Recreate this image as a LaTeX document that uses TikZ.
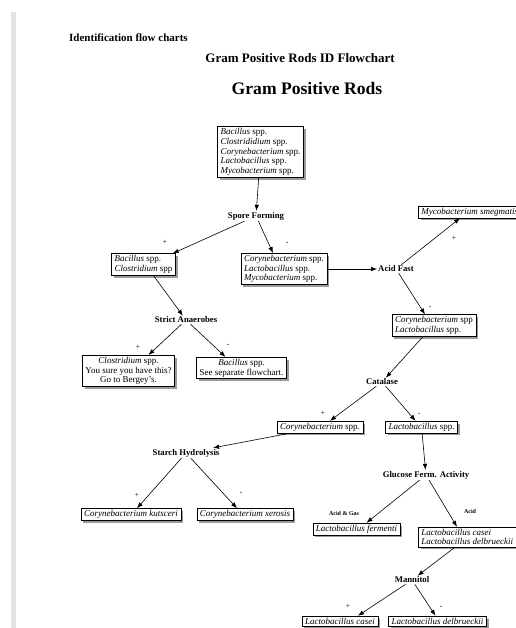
\documentclass[tikz,border=0pt]{standalone}
\usepackage{fontspec}
\setmainfont{Liberation Serif}
\usetikzlibrary{arrows.meta,shadows}

\begin{document}
\begin{tikzpicture}[
    x=1pt, y=-1pt,
    taxon/.style={rectangle, draw, line width=0.6pt, fill=white, inner xsep=3pt, inner ysep=1.8pt, align=left,
        font=\fontsize{9}{9.8}\selectfont,
        drop shadow={shadow xshift=2.2pt, shadow yshift=-2.5pt, fill=black!65, opacity=0.6}},
    taxonc/.style={taxon, align=center},
    test/.style={font=\bfseries\fontsize{8.7}{10}\selectfont, inner sep=1pt},
    sign/.style={font=\fontsize{7.5}{8}\selectfont, inner sep=0pt},
    result/.style={font=\bfseries\fontsize{6}{7}\selectfont, inner sep=0pt},
    every edge/.style={draw, -{Latex[length=6pt,width=4.5pt]}, line width=0.6pt}
]
\useasboundingbox (0,0) rectangle (515,628);
\fill[gray!22] (11,12) rectangle (16,628);

% Titles
\node[font=\bfseries\fontsize{11}{13}\selectfont, anchor=west, inner sep=0pt] (heading) at (69,38) {Identification flow charts};
\node[font=\bfseries\fontsize{13}{15}\selectfont] (subtitle) at (300,58) {Gram Positive Rods ID Flowchart};
\node[font=\bfseries\fontsize{17.6}{20}\selectfont] (title) at (307,88) {Gram Positive Rods};

% Taxa and tests
\node[taxon] (all) at (260.5,152) {\textit{Bacillus} spp.\\ \textit{Clostrididium} spp.\\ \textit{Corynebacterium} spp.\\ \textit{Lactobacillus} spp.\\ \textit{Mycobacterium} spp.};
\node[test] (spore) at (256,216) {Spore Forming};
\node[taxon] (bacclos) at (143.5,264.5) {\textit{Bacillus} spp.\\ \textit{Clostridium} spp};
\node[taxon] (corlacmyc) at (284,269) {\textit{Corynebacterium} spp.\\ \textit{Lactobacillus} spp.\\ \textit{Mycobacterium} spp.};
\node[test] (acidfast) at (396,269) {Acid Fast};
\node[taxon, anchor=west] (smeg) at (418,212) {\textit{Mycobacterium smegmatis}};
\node[taxon] (corlac) at (434,325.5) {\textit{Corynebacterium} spp\\ \textit{Lactobacillus} spp.};
\node[test] (catalase) at (382,382) {Catalase};
\node[taxon] (cory) at (320,427) {\textit{Corynebacterium} spp.};
\node[taxon] (lacto) at (421.5,427) {\textit{Lactobacillus} spp.};
\node[test] (anaer) at (186,320) {Strict Anaerobes};
\node[taxonc] (clos) at (128.5,371) {\textit{Clostridium} spp.\\ You sure you have this?\\ Go to Bergey's.};
\node[taxonc] (bacsep) at (241.5,368) {\textit{Bacillus} spp.\\ See separate flowchart.};
\node[test] (starch) at (186,453) {Starch Hydrolysis};
\node[taxon] (kuts) at (131,514.5) {\textit{Corynebacterium kutsceri}};
\node[taxon] (xero) at (245,514.5) {\textit{Corynebacterium xerosis}};
\node[test] (glucose) at (426,475) {Glucose Ferm. Activity};
\node[taxon] (ferm) at (356.5,529) {\textit{Lactobacillus fermenti}};
\node[taxon, anchor=west] (casdel) at (418,537) {\textit{Lactobacillus casei}\\ \textit{Lactobacillus delbrueckii}};
\node[test] (mannitol) at (412,580) {Mannitol};
\node[taxon] (casei) at (340,621) {\textit{Lactobacillus casei}};
\node[taxon] (delb) at (437.5,621) {\textit{Lactobacillus delbrueckii}};

% Results
\node[sign] (spore-p) at (165,242) {+};
\node[sign] (spore-m) at (287,243) {-};
\node[sign] (acid-p) at (454,238) {+};
\node[sign] (acid-m) at (430,307) {-};
\node[sign] (anaer-p) at (138,347) {+};
\node[sign] (anaer-m) at (228,345) {-};
\node[sign] (cat-p) at (323,413) {+};
\node[sign] (cat-m) at (419,414) {-};
\node[sign] (starch-p) at (137,495) {+};
\node[sign] (starch-m) at (241,493) {-};
\node[result] (gluc-ag) at (344,513) {Acid \& Gas};
\node[result] (gluc-a) at (470,511) {Acid};
\node[sign] (mann-p) at (348,606) {+};
\node[sign] (mann-m) at (441,607) {-};

% Connections
\path (all) edge (spore)
      (spore) edge ([xshift=-3pt]bacclos.north east)
      (spore) edge ([xshift=-11pt]corlacmyc.north)
      (corlacmyc) edge (acidfast)
      (acidfast) edge ([xshift=42pt]smeg.south west)
      (acidfast) edge ([xshift=-9pt]corlac.north)
      ([xshift=-11pt]corlac.south) edge (catalase)
      (catalase) edge ([xshift=10pt]cory.north)
      (catalase) edge ([xshift=-6pt]lacto.north)
      ([xshift=10pt]bacclos.south) edge (anaer)
      (anaer) edge ([xshift=20pt]clos.north)
      (anaer) edge ([xshift=-16pt]bacsep.north)
      ([xshift=-30pt]cory.south) edge (starch)
      (starch) edge ([xshift=6pt]kuts.north)
      (starch) edge ([xshift=-8pt]xero.north)
      (lacto) edge (glucose)
      (glucose) edge ([xshift=10pt]ferm.north)
      (glucose) edge ([xshift=39pt]casdel.north west)
      ([xshift=37pt]casdel.south west) edge (mannitol)
      (mannitol) edge ([xshift=18pt]casei.north)
      (mannitol) edge ([xshift=-2pt]delb.north);

\end{tikzpicture}
\end{document}
